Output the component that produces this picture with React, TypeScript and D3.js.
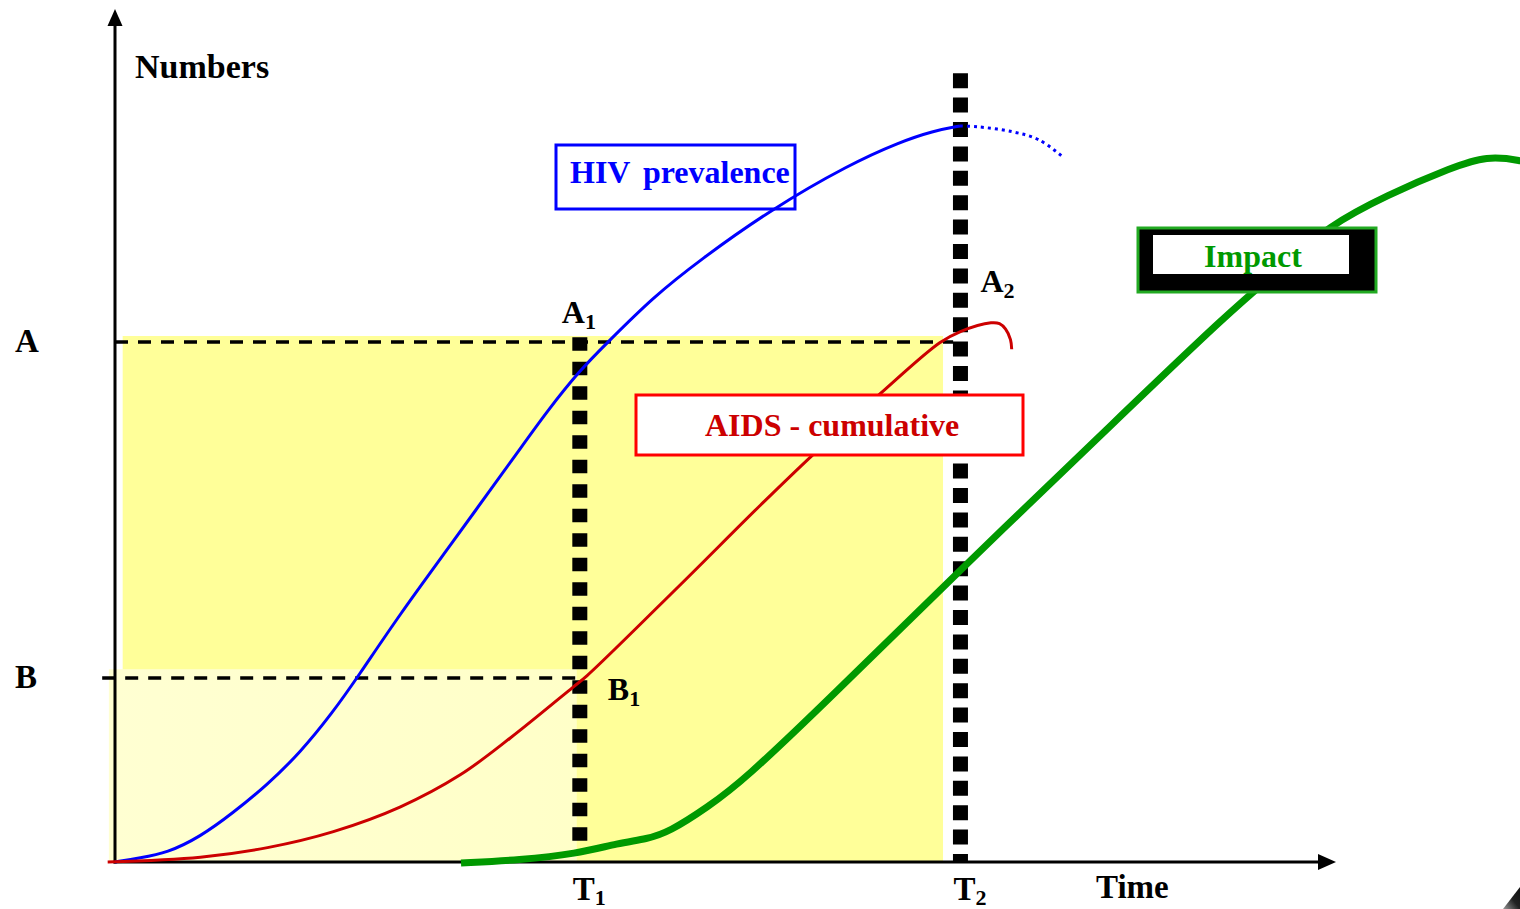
import React from 'react';
import * as d3 from 'd3';

const W = 1520;
const H = 909;

// x: time units (0..100 along the drawn axis), y: number units (0..100)
const hivTime = [0, 2.05, 4.26, 6.97, 9.67, 12.46, 15.16, 17.87, 19.84, 23.36, 27.21, 33.61, 35.25, 38.11, 40.33, 44.1, 47.95, 53.69, 60.25, 64.34, 67.05, 69.26];
const hivValue = [0, 0.5, 1.13, 3.13, 6.13, 9.63, 13.63, 18.75, 23.0, 31.0, 39.0, 52.5, 56.0, 61.5, 64.88, 70.6, 75.25, 81.5, 87.25, 90.0, 91.38, 92.0];

const hivProjTime = [69.26, 70.7, 73.5, 75.7, 77.8];
const hivProjValue = [92.0, 91.9, 91.3, 90.3, 88.0];

const aidsTime = [-0.6, 7.0, 12.5, 17.9, 23.4, 28.3, 32.4, 37.5, 38.7, 46.3, 52.9, 57.2, 62.7, 67.6, 69.3, 71.8, 72.5, 73.0, 73.4, 73.5];
const aidsValue = [0, 0.6, 1.8, 3.8, 6.9, 10.9, 15.5, 21.8, 23.3, 34.6, 44.6, 50.9, 58.5, 64.9, 66.3, 67.4, 67.3, 66.6, 65.3, 64.1];

const impactTime = [28.36, 33.2, 37.79, 41.31, 43.61, 45.41, 48.61, 51.56, 58.28, 69.26, 80.74, 91.39, 96.31, 99.34, 104.26, 109.67, 112.46, 115.16, 117.2];
const impactValue = [-0.13, 0.25, 1.0, 2.38, 2.88, 3.75, 6.88, 10.25, 20.0, 36.5, 53.25, 68.9, 75.1, 79.38, 83.38, 86.88, 88.25, 87.75, 86.9];

const levelLabels = ['A', 'B'];
const levelValues = [65, 23];
const timeLabels = ['T', 'T'];
const timeSubs = ['1', '2'];
const timeValues = [38.1, 69.3];

const seriesNames = ['HIV prevalence', 'AIDS - cumulative', 'Impact'];

const FONT = '"Liberation Serif", "Times New Roman", serif';

export default function App() {
  const x = d3.scaleLinear().domain([0, 100]).range([115, 1335]);
  const y = d3.scaleLinear().domain([0, 100]).range([862, 62]);

  const lineB = d3
    .line<[number, number]>()
    .x((d) => x(d[0]))
    .y((d) => y(d[1]))
    .curve(d3.curveBasis);

  const lineCR = d3
    .line<[number, number]>()
    .x((d) => x(d[0]))
    .y((d) => y(d[1]))
    .curve(d3.curveCatmullRom.alpha(0.5));

  const zip = (a: number[], b: number[]) => a.map((v, i) => [v, b[i]] as [number, number]);

  const hivPath = lineB(zip(hivTime, hivValue)) || '';
  const hivProjPath = lineCR(zip(hivProjTime, hivProjValue)) || '';
  const aidsPath = lineCR(zip(aidsTime, aidsValue)) || '';
  const impactPath = lineB(zip(impactTime, impactValue)) || '';

  const [A, B] = levelValues;
  const [T1, T2] = timeValues;

  const x0 = x(0);
  const y0 = y(0);

  return (
    <svg
      width={W}
      height={H}
      viewBox={`0 0 ${W} ${H}`}
      style={{ position: 'absolute', left: 0, top: 0, background: '#fff' }}
      fontFamily={FONT}
      fontWeight="bold"
    >
      <defs>
        <linearGradient id="lightY" x1="0" x2="1" y1="0" y2="0">
          <stop offset="0" stopColor="#FFFFD2" />
          <stop offset="1" stopColor="#FFFFC8" />
        </linearGradient>
        <linearGradient id="corner" x1="0" y1="1" x2="1" y2="0">
          <stop offset="0" stopColor="#9a9a9a" />
          <stop offset="0.5" stopColor="#222" />
          <stop offset="1" stopColor="#111" />
        </linearGradient>
      </defs>
      <rect width={W} height={H} fill="#fff" />

      {/* shaded regions */}
      <rect x={x(0.63)} y={y(65.75)} width={x(67.87) - x(0.63)} height={y0 - y(65.75)} fill="#FFFF99" />
      <rect x={x(-0.5)} y={y(24.1)} width={x(37.85) - x(-0.5)} height={y0 - y(24.1)} fill="url(#lightY)" />

      {/* level dashed lines */}
      <line x1={x0} x2={x(68.7)} y1={y(A)} y2={y(A)} stroke="#000" strokeWidth={3.5} strokeDasharray="13 10" />
      <line x1={x(-1.05)} x2={x(37.85)} y1={y(B)} y2={y(B)} stroke="#000" strokeWidth={3.5} strokeDasharray="13 10" />

      {/* time markers */}
      <line x1={x(T1)} x2={x(T1)} y1={y(65.6)} y2={y(2.6)} stroke="#000" strokeWidth={15} strokeDasharray="13.5 11" />
      <line x1={x(T2)} x2={x(T2)} y1={y(98.6)} y2={y0} stroke="#000" strokeWidth={15} strokeDasharray="15 9.4" />

      {/* axes */}
      <line x1={x0} x2={x0} y1={y0 + 1.5} y2={20} stroke="#000" strokeWidth={3} />
      <polygon points={`${x0},9 ${x0 - 7.5},26 ${x0 + 7.5},26`} fill="#000" />
      <line x1={x0 - 1.5} x2={1322} y1={y0} y2={y0} stroke="#000" strokeWidth={3} />
      <polygon points={`1336,${y0} 1318,${y0 - 8} 1318,${y0 + 8}`} fill="#000" />

      {/* curves */}
      <path d={hivPath} fill="none" stroke="#0000FF" strokeWidth={3} />
      <path d={hivProjPath} fill="none" stroke="#0000FF" strokeWidth={3} strokeDasharray="3 4" />
      <path d={aidsPath} fill="none" stroke="#CC0000" strokeWidth={3} />
      <path d={impactPath} fill="none" stroke="#009900" strokeWidth={7} />

      {/* series label boxes */}
      <rect x={556} y={145} width={239} height={64} fill="none" stroke="#0000FF" strokeWidth={3} />
      <text x={570} y={183} fontSize={32} fill="#0000FF" wordSpacing={5}>
        {seriesNames[0]}
      </text>

      <rect x={636} y={395} width={387} height={60} fill="#fff" stroke="#FF0000" strokeWidth={3} />
      <text x={705} y={436} fontSize={32} fill="#CC0000">
        {seriesNames[1]}
      </text>

      <rect x={1138} y={228} width={238} height={64} fill="#000" stroke="#22AA22" strokeWidth={3} />
      <rect x={1153} y={235} width={196} height={39} fill="#fff" />
      <text x={1253} y={267} fontSize={32} fill="#009900" textAnchor="middle">
        {seriesNames[2]}
      </text>

      {/* axis titles */}
      <text x={135} y={78} fontSize={34} fill="#000">Numbers</text>
      <text x={1096} y={898} fontSize={33} fill="#000">Time</text>

      {/* level labels */}
      {levelLabels.map((l, i) => (
        <text key={l} x={15} y={y(levelValues[i]) + 10} fontSize={33} fill="#000">
          {l}
        </text>
      ))}

      {/* time labels */}
      {timeLabels.map((l, i) => (
        <text key={i} x={x(timeValues[i]) - 7} y={900} fontSize={33} fill="#000">
          {l}
          <tspan fontSize={22} dy={5}>{timeSubs[i]}</tspan>
        </text>
      ))}

      {/* point labels */}
      <text x={x(T1) - 18} y={y(A) - 19} fontSize={32} fill="#000">
        A<tspan fontSize={22} dy={6}>1</tspan>
      </text>
      <text x={x(T2) + 20} y={y(A) - 50} fontSize={32} fill="#000">
        A<tspan fontSize={22} dy={6}>2</tspan>
      </text>
      <text x={x(T1) + 28} y={y(B) + 22} fontSize={32} fill="#000">
        B<tspan fontSize={22} dy={6}>1</tspan>
      </text>

      {/* corner artifact */}
      <polygon points="1503,909 1520,887 1520,909" fill="url(#corner)" />
    </svg>
  );
}
